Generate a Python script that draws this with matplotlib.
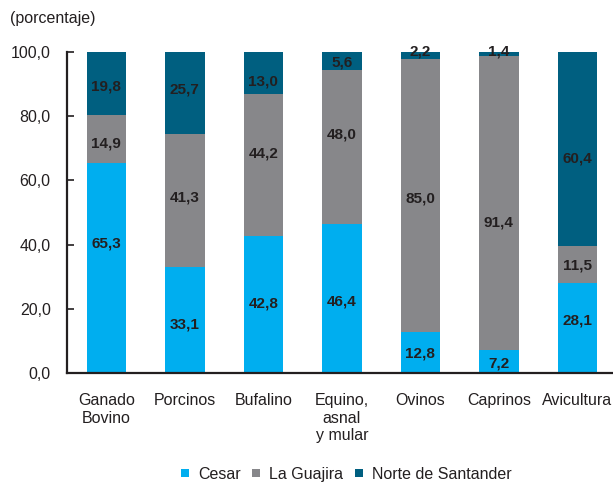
import matplotlib
matplotlib.use("Agg")
import matplotlib.pyplot as plt
from matplotlib.lines import Line2D
import numpy as np

# data (porcentaje)
categorias = ["Ganado\nBovino", "Porcinos", "Bufalino", "Equino,\nasnal\ny mular",
              "Ovinos", "Caprinos", "Avicultura"]
cesar = [65.3, 33.1, 42.8, 46.4, 12.8, 7.2, 28.1]
guajira = [14.9, 41.3, 44.2, 48.0, 85.0, 91.4, 11.5]
norte = [19.8, 25.7, 13.0, 5.6, 2.2, 1.4, 60.4]
series_names = ["Cesar", "La Guajira", "Norte de Santander"]

# small manual nudges of the value labels (as in the original layout)
nudge_cesar = [7.7, -1.5, 0.4, -0.9, -0.2, -0.5, 2.5]
nudge_guajira = [-1.2, 0.9, 3.3, 4.0, -0.9, -6.0, -0.4]
nudge_norte = [-1.0, 1.0, -2.8, -0.6, 0, 0, -3.0]

colors = ["#00AEEF", "#87878A", "#005F80"]
txt = "#231F20"

plt.rcParams['font.family'] = ['Liberation Sans', 'DejaVu Sans']

fig = plt.figure(figsize=(6.13, 4.84), dpi=100)
ax = fig.add_axes([66.7 / 613, 1 - 373.3 / 484, 1 - 66.7 / 613, (373.3 - 51.7) / 484])

x = np.arange(len(categorias))
w = 0.503
bottom = np.zeros(len(x))
all_series = [cesar, guajira, norte]
nudges = [nudge_cesar, nudge_guajira, nudge_norte]
for vals, col, nd, name in zip(all_series, colors, nudges, series_names):
    vals = np.array(vals)
    ax.bar(x, vals, w, bottom=bottom, color=col, linewidth=0, label=name)
    for i, v in enumerate(vals):
        if v < 3:
            ypos = 100.2  # tiny segments: label sits on the top edge
        else:
            ypos = bottom[i] + v / 2 + nd[i]
        ax.text(x[i], ypos, ("%.1f" % v).replace(".", ","), ha="center", va="center",
                fontsize=11, fontweight="bold", color=txt)
    bottom += vals

ax.set_xlim(-0.504, 6.455)
ax.set_ylim(0, 100)
ax.set_yticks(np.arange(0, 101, 20))
ax.set_yticklabels([("%.1f" % t).replace(".", ",") for t in np.arange(0, 101, 20)])
ax.set_xticks(x)
ax.set_xticklabels(categorias, linespacing=1.2)

for s in ["top", "right"]:
    ax.spines[s].set_visible(False)
for s in ["left", "bottom"]:
    ax.spines[s].set_color(txt)
    ax.spines[s].set_linewidth(1.6)
ax.tick_params(axis="y", direction="in", length=5, width=1.2, color=txt,
               labelsize=11.5, labelcolor=txt, pad=11.5)
ax.tick_params(axis="x", length=0, labelsize=11.5, labelcolor=txt, pad=14.5)

fig.text(10 / 613, 1 - 18 / 484, "(porcentaje)", fontsize=11.5, color=txt,
         ha="left", va="center")

handles = [Line2D([], [], marker="s", linestyle="none", markersize=6,
                  markerfacecolor=c, markeredgewidth=0) for c in colors]
fig.legend(handles, series_names, loc="center", bbox_to_anchor=(0.563, 0.02),
           ncol=3, frameon=False, fontsize=11.5, handlelength=0.8,
           handletextpad=0.4, columnspacing=0.6, labelcolor=txt)

fig.savefig("out.png", dpi=100)
